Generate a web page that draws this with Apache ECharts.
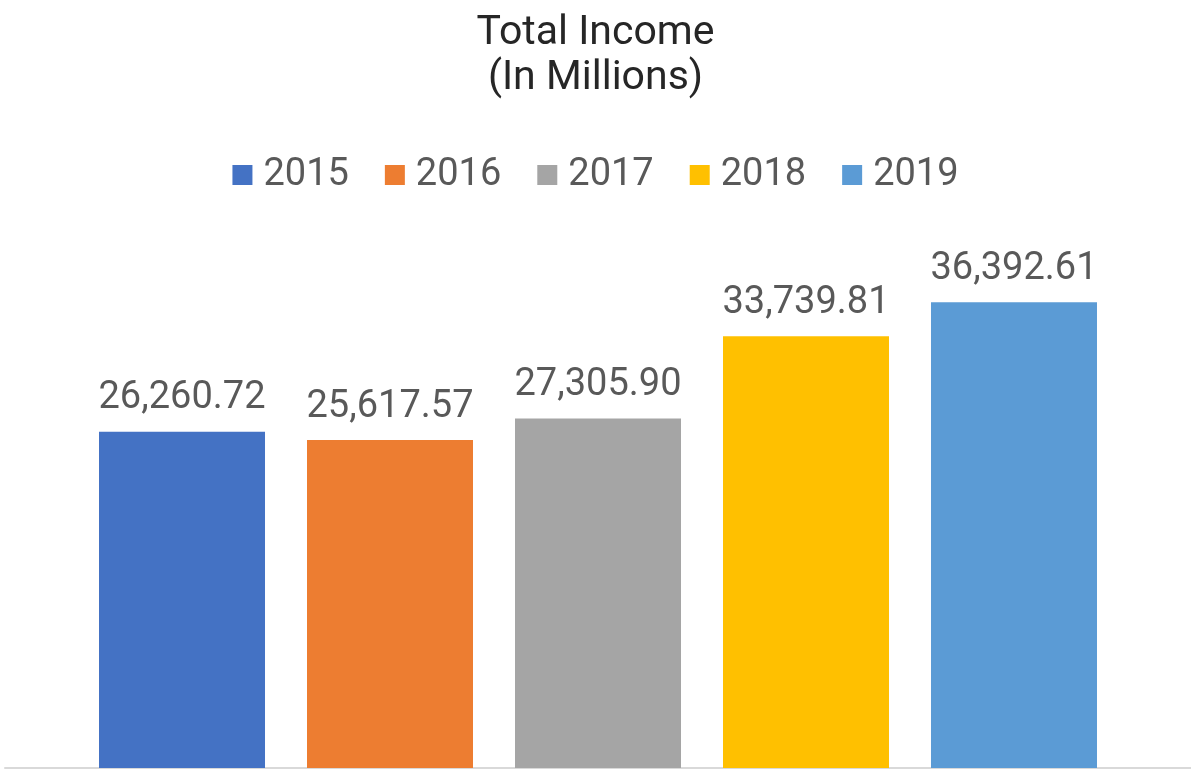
<!DOCTYPE html>
<html>
<head>
<meta charset="utf-8">
<title>Total Income</title>
<script src="https://cdn.jsdelivr.net/npm/echarts@6/dist/echarts.min.js"></script>
<style>
  html, body { margin: 0; padding: 0; background: #ffffff; }
  #chart { width: 1191px; height: 770px; }
</style>
</head>
<body>
<div id="chart"></div>
<script>
// Total income per year, in millions
const years = ['2015', '2016', '2017', '2018', '2019'];
const incomeValues = [26260.72, 25617.57, 27305.90, 33739.81, 36392.61];
const yearColors = ['#4472C4', '#ED7D31', '#A5A5A5', '#FFC000', '#5B9BD5'];

const fmt = v => v.toLocaleString('en-US', { minimumFractionDigits: 2, maximumFractionDigits: 2 });
const textFont = 'Roboto, "Noto Sans", sans-serif';

const series = years.map((y, i) => ({
  name: y,
  type: 'bar',
  data: [incomeValues[i]],
  barWidth: 166,
  barGap: '25.3%',
  itemStyle: { color: yearColors[i] },
  label: {
    show: true,
    position: 'top',
    distance: 14,
    color: '#595959',
    fontFamily: textFont,
    fontSize: 38,
    formatter: p => fmt(p.value)
  }
}));

const chart = echarts.init(document.getElementById('chart'), null, { renderer: 'canvas' });
chart.setOption({
  animation: false,
  backgroundColor: '#ffffff',
  title: {
    text: 'Total Income\n(In Millions)',
    left: 'center',
    top: 6,
    textStyle: {
      color: '#262626',
      fontFamily: textFont,
      fontWeight: 'normal',
      fontSize: 41,
      lineHeight: 45
    }
  },
  legend: {
    data: years,
    top: 151,
    left: 'center',
    icon: 'rect',
    itemWidth: 20,
    itemHeight: 20,
    itemGap: 36,
    textStyle: {
      color: '#595959',
      fontFamily: textFont,
      fontSize: 38,
      padding: [0, 0, 0, 6]
    }
  },
  grid: { left: 5, right: 0, top: 256, bottom: 2, containLabel: false },
  xAxis: {
    type: 'category',
    data: ['Total Income'],
    axisLine: { show: true, lineStyle: { color: '#d9d9d9', width: 2 } },
    axisTick: { show: false },
    axisLabel: { show: false }
  },
  yAxis: {
    type: 'value',
    min: 0,
    max: 40000,
    show: false,
    splitLine: { show: false }
  },
  series: series
});
</script>
</body>
</html>
